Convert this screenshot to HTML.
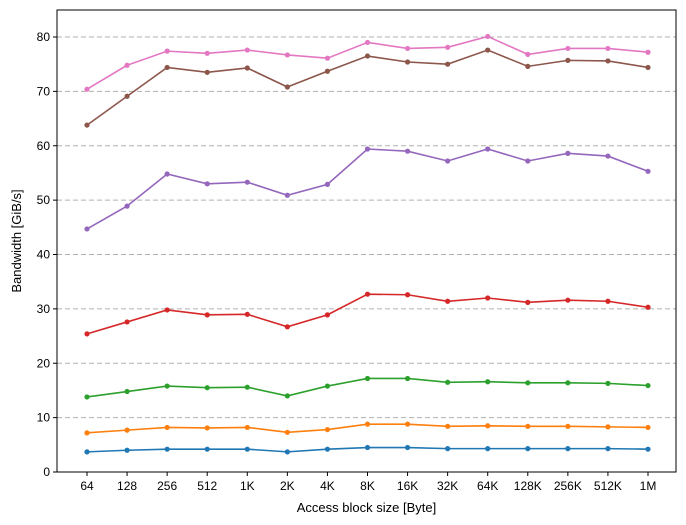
<!DOCTYPE html>
<html><head><meta charset="utf-8"><style>
body{margin:0;background:#fff;}
svg{display:block;font-family:"Liberation Sans","DejaVu Sans",sans-serif;}
</style></head><body>
<svg id="chart" width="686" height="525"></svg>
<script>
const categories=["64","128","256","512","1K","2K","4K","8K","16K","32K","64K","128K","256K","512K","1M"];
const yTicks=[0,10,20,30,40,50,60,70,80];
const s1=[3.7,4.0,4.2,4.2,4.2,3.7,4.2,4.5,4.5,4.3,4.3,4.3,4.3,4.3,4.2];
const s2=[7.2,7.7,8.2,8.1,8.2,7.3,7.8,8.8,8.8,8.4,8.5,8.4,8.4,8.3,8.2];
const s3=[13.8,14.8,15.8,15.5,15.6,14.0,15.8,17.2,17.2,16.5,16.6,16.4,16.4,16.3,15.9];
const s4=[25.4,27.6,29.8,28.9,29.0,26.7,28.9,32.7,32.6,31.4,32.0,31.2,31.6,31.4,30.3];
const s5=[44.7,48.9,54.8,53.0,53.3,50.9,52.9,59.4,59.0,57.2,59.4,57.2,58.6,58.1,55.3];
const s6=[63.8,69.1,74.4,73.5,74.3,70.8,73.7,76.5,75.4,75.0,77.6,74.6,75.7,75.6,74.4];
const s7=[70.4,74.8,77.4,77.0,77.6,76.7,76.1,79.0,77.9,78.1,80.1,76.8,77.9,77.9,77.2];
const series=[s1,s2,s3,s4,s5,s6,s7];
const colors=["#1f77b4","#ff7f0e","#2ca02c","#d62728","#9467bd","#8c564b","#e377c2"];
const NS="http://www.w3.org/2000/svg";
const svg=document.getElementById("chart");
const L=57,R=676,T=10,B=472;
const x=i=>87+i*(648-87)/(categories.length-1);
const y=v=>B-v*(B-37)/80;
function mk(t,a,p){const e=document.createElementNS(NS,t);for(const k in a)e.setAttribute(k,a[k]);(p||svg).appendChild(e);return e;}
yTicks.forEach(v=>{
 if(v>0){const g=mk("line",{x1:L,x2:R,y1:y(v),y2:y(v),stroke:"#b0b0b0","stroke-dasharray":"5,3","stroke-width":1});
 
 }
 mk("line",{x1:L-4,x2:L,y1:y(v),y2:y(v),stroke:"#000"});
 const t=mk("text",{x:L-7,y:y(v)+4,"text-anchor":"end","font-size":12});t.textContent=v;
 
 
});
categories.forEach((c,i)=>{
 mk("line",{x1:x(i),x2:x(i),y1:B,y2:B+4,stroke:"#000"});
 const t=mk("text",{x:x(i),y:B+18,"text-anchor":"middle","font-size":12});t.textContent=c;
 
 
});
series.forEach((s,k)=>{
 const p=mk("polyline",{points:s.map((v,i)=>x(i)+","+y(v)).join(" "),fill:"none",stroke:colors[k],"stroke-width":1.6});
 
 
 s.forEach((v,i)=>{const c=mk("circle",{cx:x(i),cy:y(v),r:2.6,fill:colors[k]});
 
 });
});
const fr=mk("rect",{x:L,y:T,width:R-L,height:B-T,fill:"none",stroke:"#000","stroke-width":1});


const xt=mk("text",{x:(L+R)/2,y:512,"text-anchor":"middle","font-size":13});xt.textContent="Access block size [Byte]";


const yt=mk("text",{x:21,y:(T+B)/2,"text-anchor":"middle","font-size":13,transform:"rotate(-90 21 "+((T+B)/2)+")"});yt.textContent="Bandwidth [GiB/s]";


</script>
</body></html>
